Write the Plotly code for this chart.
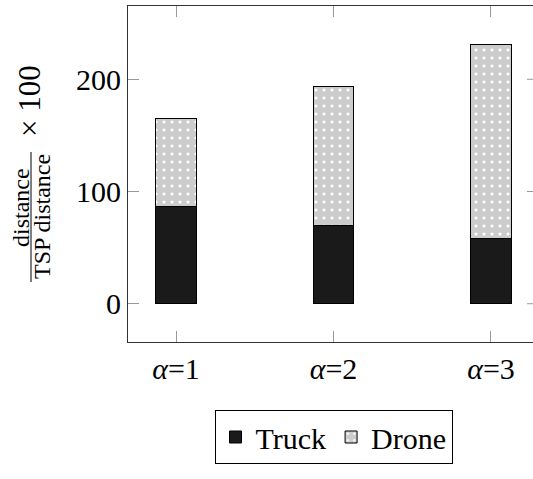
import plotly.graph_objects as go

categories = ["α=1", "α=2", "α=3"]
tick_labels = ["<i>α</i>=1", "<i>α</i>=2", "<i>α</i>=3"]
truck = [87, 70, 58]
drone = [78, 124, 173]
ytick_vals = [0, 100, 200]
ytick_text = ["0", "100", "200"]

FONT = "Liberation Serif"
W, H = 533, 479
ML, MR, MT, MB = 128, 0, 6, 137
PW = W - ML - MR
PH = H - MT - MB

def px_x(p):
    return (p - ML) / PW

def px_y(p):
    return (H - MB - p) / PH

fig = go.Figure()
fig.add_trace(go.Bar(
    x=categories, y=truck, name="Truck", width=0.258,
    marker=dict(color="#1a1a1a", line=dict(color="black", width=1)),
))
fig.add_trace(go.Bar(
    x=categories, y=drone, name="Drone", width=0.258,
    marker=dict(color="#cccccc", line=dict(color="black", width=1),
                pattern=dict(shape=".", fgcolor="white", bgcolor="#cccccc",
                             size=8, solidity=0.12, fillmode="replace")),
))

shapes = []
for v in ytick_vals:
    shapes.append(dict(type="line", xref="paper", yref="y",
                       x0=px_x(527), x1=1.0, y0=v, y1=v,
                       line=dict(color="#999999", width=1)))
# fraction bar of the y-axis label
shapes.append(dict(type="line", xref="paper", yref="paper",
                   x0=px_x(31), x1=px_x(31), y0=px_y(152), y1=px_y(282),
                   line=dict(color="black", width=1)))

annotations = [
    dict(text="distance", xref="paper", yref="paper", x=px_x(21), y=px_y(208),
         textangle=-90, showarrow=False, xanchor="center", yanchor="middle",
         font=dict(family=FONT, size=24, color="black")),
    dict(text="TSP distance", xref="paper", yref="paper", x=px_x(42), y=px_y(217),
         textangle=-90, showarrow=False, xanchor="center", yanchor="middle",
         font=dict(family=FONT, size=24, color="black")),
    dict(text="× 100", xref="paper", yref="paper", x=px_x(29), y=px_y(101),
         textangle=-90, showarrow=False, xanchor="center", yanchor="middle",
         font=dict(family=FONT, size=31, color="black")),
]

fig.update_layout(
    width=W, height=H,
    margin=dict(l=ML, r=MR, t=MT, b=MB, pad=0),
    barmode="stack",
    plot_bgcolor="white", paper_bgcolor="white",
    font=dict(family=FONT, size=30, color="black"),
    showlegend=True,
    legend=dict(orientation="h", xref="paper", yref="paper", traceorder="normal",
                x=px_x(333.5), y=px_y(410), xanchor="center", yanchor="top",
                bordercolor="black", borderwidth=1,
                font=dict(family=FONT, size=30, color="black"),
                itemwidth=30),
    shapes=shapes,
    annotations=annotations,
    hovermode=False,
)
fig.update_xaxes(range=[-0.305, 2.267], showline=True, linecolor="#333333", linewidth=1,
                 mirror="ticks", ticks="inside", ticklen=11, tickcolor="#999999",
                 tickvals=categories, ticktext=tick_labels,
                 showgrid=False, zeroline=False,
                 tickfont=dict(family=FONT, size=30, color="black"))
fig.update_yaxes(range=[-34.1, 265.3], showline=True, linecolor="#333333", linewidth=1,
                 mirror=False, ticks="inside", ticklen=11, tickcolor="#999999",
                 tickvals=ytick_vals, ticktext=ytick_text,
                 showgrid=False, zeroline=False,
                 tickfont=dict(family=FONT, size=30, color="black"))

fig.write_html("out.html")
